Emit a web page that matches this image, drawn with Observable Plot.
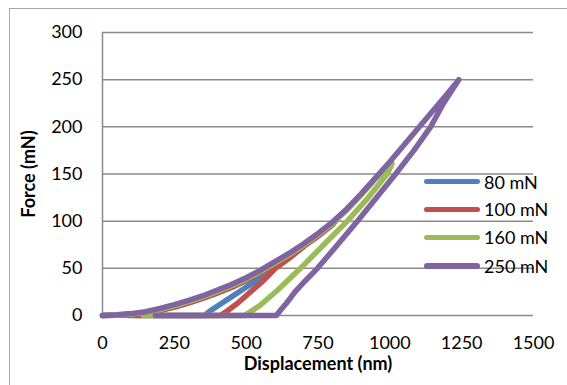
<!DOCTYPE html>
<html><head><meta charset="utf-8">
<script src="https://cdn.jsdelivr.net/npm/d3@7"></script>
<script src="https://cdn.jsdelivr.net/npm/@observablehq/plot@0.6"></script>
<style>
html,body{margin:0;padding:0;background:#fff;width:567px;height:385px;overflow:hidden;font-family:Lato,sans-serif}
#wrap{position:relative;width:567px;height:385px;overflow:hidden}
#frame{position:absolute;left:9px;top:8px;width:600px;height:420px;border:1px solid #a6a6a6}
#chart{position:absolute;left:0;top:0}
#legend{position:absolute;left:424px;top:0}
.row{position:absolute;left:0;height:28px;display:flex;align-items:center;white-space:nowrap;font-size:18px;color:#000}
.sw{width:56px;height:5.5px;border-radius:3px;margin-right:4px}
</style></head>
<body><div id="wrap"><div id="frame"></div><div id="chart"></div><div id="legend"></div></div>
<script>
const seriesNames = ["80 mN", "100 mN", "160 mN", "250 mN"];
const seriesColors = ["#4F81BD", "#C0504D", "#9BBB59", "#8064A2"];
const xTicks = [0, 250, 500, 750, 1000, 1250, 1500];
const yTicks = [0, 50, 100, 150, 200, 250, 300];

// 80 mN: loading, unloading, return at zero force
const disp80 = [0,50,100,150,200,250,300,350,400,450,500,550,600,650,700, 666,600,550,500,450,410,380,362,358, 90];
const force80 = [0,0.3,1,2.7,5.5,9,13.3,18.3,24,30,37,45,54,63,73, 65,50,39,30,20,12,6,2,0, 0];

// 100 mN
const disp100 = [0,50,100,150,200,250,300,350,400,450,500,550,600,650,700,750,800, 811, 760,707,655,602,560,515,470,435,415,410, 115];
const force100 = [0,0.3,1,2.7,5.5,9,13.3,18.3,24,30,37,45,54,63,73,84,96, 100, 88,75,62,50,37,25,13,5,1,0, 0];

// 160 mN
const disp160 = [0,50,100,150,200,250,300,350,400,450,500,550,600,650,700,750,800,850,900,950,1000,1008, 991,925,852,770,689,610,545,510,497,495, 143];
const force160 = [0,0.5,1.5,3.2,6.3,10.2,14.6,19.6,25.5,31.5,38.5,46.5,55.5,64.5,74.5,85.5,97.5,111.5,127.5,144.5,160.5,161, 150,125,100,75,50,27,10,3,0.5,0, 0];

// 250 mN
const disp250 = [0,50,100,150,200,250,300,350,400,450,500,550,600,650,700,750,800,850,900,950,1000,1050,1100,1150,1200,1240, 1187,1142,1084,1020,954,887,818,748,700,670,640,618,605, 184];
const force250 = [0,0.7,2,4,7.5,11.5,16,21,27,33,40,48,57,66,76,87,99,113,129,146,163,181,199,217,235,250, 225,200,175,150,125,100,75,50,35,25,13,5,0, 0];

const dispAll = [disp80, disp100, disp160, disp250];
const forceAll = [force80, force100, force160, force250];

const rows = [];
seriesNames.forEach((s, i) => {
  dispAll[i].forEach((d, j) => rows.push({series: s, d, f: forceAll[i][j]}));
});

const chart = Plot.plot({
  width: 567, height: 385,
  marginLeft: 102, marginRight: 34, marginTop: 32, marginBottom: 70,
  style: {fontFamily: "Lato, sans-serif", fontSize: "18px", color: "#000", background: "transparent", overflow: "visible"},
  x: {domain: [0, 1500]},
  y: {domain: [0, 300]},
  color: {domain: seriesNames, range: seriesColors},
  marks: [
    Plot.gridY(yTicks, {stroke: "#8a8a8a", strokeOpacity: 1, strokeWidth: 1.5}),
    Plot.ruleX([0], {stroke: "#8a8a8a", strokeWidth: 1.5}),
    Plot.axisX(xTicks, {tickSize: 0, tickPadding: 21, label: null, fontSize: 18, tickFormat: d => String(d)}),
    Plot.axisY(yTicks, {tickSize: 0, tickPadding: 20, label: null, fontSize: 18, tickFormat: d => String(d)}),
    Plot.line(rows, {x: "d", y: "f", z: "series", stroke: "series", strokeWidth: 5.5, strokeLinecap: "round", strokeLinejoin: "round"}),
    Plot.text(["Displacement (nm)"], {frameAnchor: "bottom", lineAnchor: "middle", textAnchor: "middle", dy: 49, fontWeight: "bold", fontSize: 18}),
    Plot.text(["Force (mN)"], {frameAnchor: "left", lineAnchor: "middle", textAnchor: "middle", dx: -73, rotate: -90, fontWeight: "bold", fontSize: 18})
  ]
});
document.getElementById("chart").appendChild(chart);

const legend = document.getElementById("legend");
const rowCenters = [181.7, 209.3, 237.3, 266];
seriesNames.forEach((s, i) => {
  const r = document.createElement("div");
  r.className = "row";
  r.style.top = (rowCenters[i] - 14) + "px";
  const sw = document.createElement("div");
  sw.className = "sw";
  sw.style.background = seriesColors[i];
  const t = document.createElement("span");
  t.textContent = s;
  r.appendChild(sw); r.appendChild(t);
  legend.appendChild(r);
});
</script></body></html>
